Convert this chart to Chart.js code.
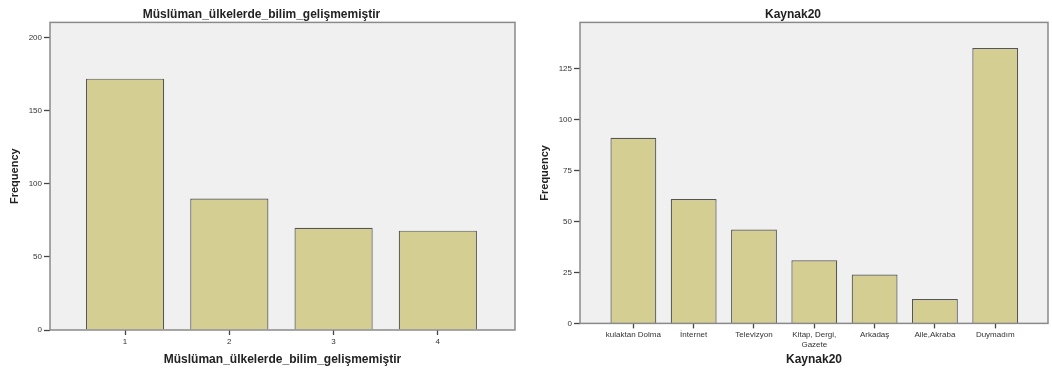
<!DOCTYPE html>
<html lang="tr">
<head>
  <meta charset="UTF-8">
  <title>Frequency charts</title>
  <script src="https://cdn.jsdelivr.net/npm/chart.js"></script>
  <style>
    body { margin: 0; background: #fff; width: 1052px; height: 369px; overflow: hidden; position: relative; }
    .box { position: absolute; top: 0; height: 369px; }
    #leftBox { left: 0; width: 527px; }
    #rightBox { left: 527px; width: 525px; }
  </style>
</head>
<body>

<div class="box" id="leftBox"><canvas id="leftChart"></canvas></div>
<div class="box" id="rightBox"><canvas id="rightChart"></canvas></div>

<script>
const leftTitle = 'Müslüman_ülkelerde_bilim_gelişmemiştir';
const leftLabels = ['1', '2', '3', '4'];
const leftValues = [172, 90, 70, 68];
const leftYTicks = [0, 50, 100, 150, 200];

const rightTitle = 'Kaynak20';
const rightLabels = ['kulaktan Dolma', 'İnternet', 'Televizyon', ['Kitap, Dergi,', 'Gazete'], 'Arkadaş', 'Aile,Akraba', 'Duymadım'];
const rightValues = [91, 61, 46, 31, 24, 12, 135];
const rightYTicks = [0, 25, 50, 75, 100, 125];

const plotBg = {
  id: 'plotBg',
  beforeDraw(chart) {
    const a = chart.chartArea, ctx = chart.ctx;
    ctx.save();
    ctx.fillStyle = '#f0f0f0';
    ctx.fillRect(a.left, a.top, a.right - a.left, a.bottom - a.top);
    ctx.restore();
  },
  afterDraw(chart) {
    const a = chart.chartArea, ctx = chart.ctx;
    ctx.save();
    ctx.strokeStyle = '#8a8a8a';
    ctx.lineWidth = 1.5;
    ctx.strokeRect(a.left, a.top, a.right - a.left, a.bottom - a.top);
    ctx.restore();
  }
};

function makeChart(id, title, labels, values, yTicks, opts) {
  const points = values.map((v, i) => ({ x: i + 1, y: v }));
  return new Chart(document.getElementById(id), {
    type: 'bar',
    data: {
      datasets: [{
        data: points,
        backgroundColor: '#d4ce92',
        borderColor: '#555',
        borderWidth: 1.2,
        barPercentage: opts.barPct,
        categoryPercentage: 1
      }]
    },
    options: {
      responsive: true,
      maintainAspectRatio: false,
      animation: false,
      layout: { padding: { left: opts.padLeft, right: opts.padRight, top: 0, bottom: 2 } },
      plugins: {
        legend: { display: false },
        tooltip: { enabled: false },
        title: {
          display: true,
          text: title,
          color: '#222',
          font: { family: 'Arial, Liberation Sans, sans-serif', size: 12, weight: 'bold' },
          padding: { top: 7, bottom: 1 }
        }
      },
      scales: {
        x: {
          type: 'linear',
          min: opts.xMin,
          max: opts.xMax,
          offset: false,
          afterBuildTicks: s => { s.ticks = labels.map((_, i) => ({ value: i + 1 })); },
          ticks: {
            autoSkip: false,
            maxRotation: 0,
            color: '#333',
            font: { family: 'Arial, Liberation Sans, sans-serif', size: 8 },
            padding: 2,
            callback: v => labels[v - 1]
          },
          grid: { offset: false, drawOnChartArea: false, drawTicks: true, tickLength: 5, tickColor: '#444', tickWidth: 1.3 },
          border: { display: false },
          title: {
            display: true,
            text: title,
            color: '#222',
            font: { family: 'Arial, Liberation Sans, sans-serif', size: 12, weight: 'bold' },
            padding: { top: opts.xTitleTop, bottom: 0 }
          }
        },
        y: {
          min: 0,
          max: opts.yMax,
          afterBuildTicks: s => { s.ticks = yTicks.map(v => ({ value: v })); },
          afterFit: s => { s.width = opts.yWidth; },
          ticks: {
            color: '#333',
            font: { family: 'Arial, Liberation Sans, sans-serif', size: 8 },
            padding: 2
          },
          grid: { drawOnChartArea: false, tickLength: 6, tickColor: '#444', tickWidth: 1.3 },
          border: { display: false },
          title: {
            display: true,
            text: 'Frequency',
            color: '#222',
            font: { family: 'Arial, Liberation Sans, sans-serif', size: 11, weight: 'bold' },
            padding: { top: 0, bottom: 4 }
          }
        }
      }
    },
    plugins: [plotBg]
  });
}

makeChart('leftChart', leftTitle, leftLabels, leftValues, leftYTicks,
  { xMin: 0.28, xMax: 4.74, yMax: 210.5, barPct: 0.75, padLeft: 8, padRight: 12, yWidth: 42, xTitleTop: 4 });

makeChart('rightChart', rightTitle, rightLabels, rightValues, rightYTicks,
  { xMin: 0.115, xMax: 7.875, yMax: 147.6, barPct: 0.76, padLeft: 11, padRight: 4, yWidth: 42, xTitleTop: 1 });
</script>

</body>
</html>
